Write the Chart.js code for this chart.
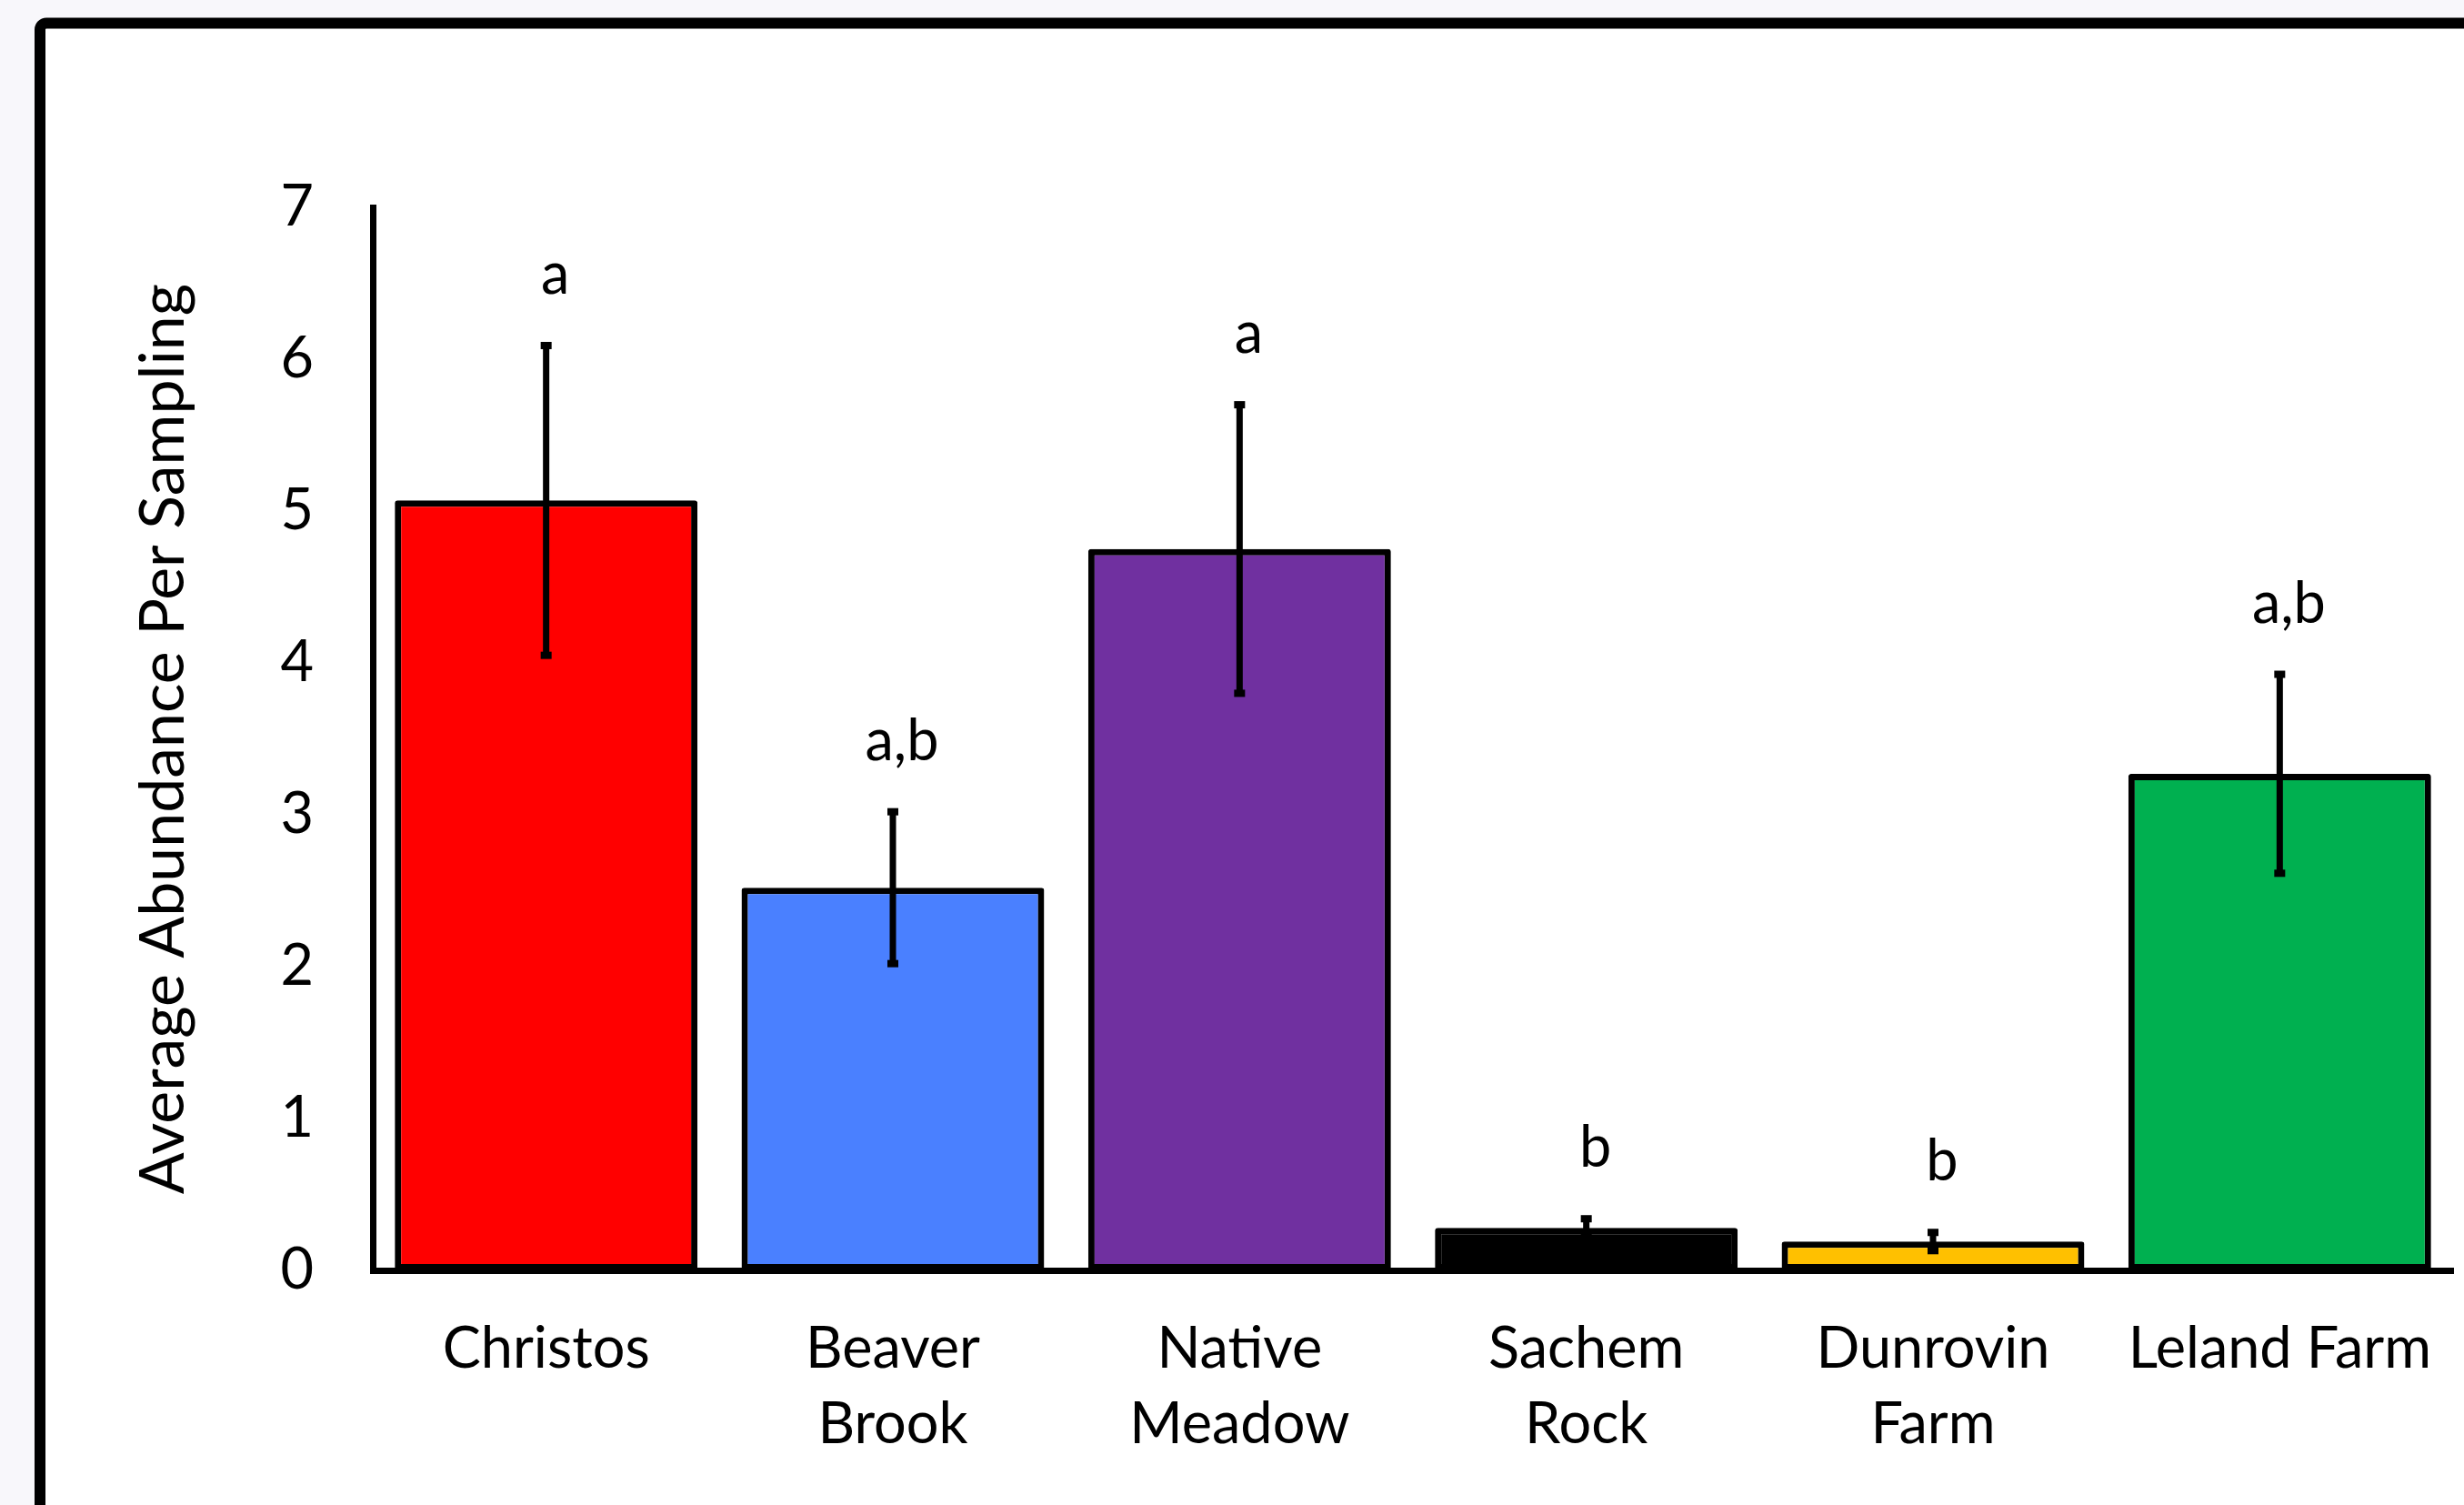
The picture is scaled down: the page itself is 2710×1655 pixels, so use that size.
<!DOCTYPE html>
<html><head><meta charset="utf-8">
<script src="https://cdn.jsdelivr.net/npm/chart.js@4.4.1/dist/chart.umd.min.js"></script>
<style>html,body{margin:0;padding:0;background:#F8F7FB;overflow:hidden}canvas{display:block}</style>
</head><body>
<canvas id="c" width="2710" height="1655"></canvas>
<script>
// ---- data ----
const categories = [['Christos'], ['Beaver', 'Brook'], ['Native', 'Meadow'], ['Sachem', 'Rock'], ['Dunrovin', 'Farm'], ['Leland Farm']];
const means = [5.07, 2.52, 4.75, 0.28, 0.19, 3.27];
const errors = [1.02, 0.50, 0.95, 0.06, 0.06, 0.655];
const letters = ['a', 'a,b', 'a', 'b', 'b', 'a,b'];
const barColors = ['#FF0000', '#4A80FF', '#7030A0', '#000000', '#FFC000', '#00B050'];
const yTicks = [0, 1, 2, 3, 4, 5, 6, 7];
const yTitle = 'Average Abundance Per Sampling';

const FONT = 'Lato, "Noto Sans", sans-serif';

const framePlugin = {
  id: 'frame',
  beforeDraw(chart) {
    const ctx = chart.ctx;
    ctx.save();
    ctx.fillStyle = '#F8F7FB';
    ctx.fillRect(0, 0, chart.width, chart.height);
    ctx.beginPath();
    ctx.roundRect(44, 25.5, chart.width + 100, chart.height + 100, 7);
    ctx.fillStyle = '#FFFFFF';
    ctx.fill();
    ctx.lineWidth = 12;
    ctx.strokeStyle = '#000000';
    ctx.stroke();
    ctx.restore();
  }
};

const errorPlugin = {
  id: 'errs',
  afterDatasetsDraw(chart) {
    const ctx = chart.ctx;
    const meta = chart.getDatasetMeta(0);
    const ys = chart.scales.y;
    ctx.save();
    ctx.strokeStyle = '#000';
    ctx.fillStyle = '#000';
    meta.data.forEach((bar, i) => {
      const x = bar.x;
      const top = ys.getPixelForValue(means[i] + errors[i]);
      const bot = ys.getPixelForValue(means[i] - errors[i]);
      ctx.lineWidth = 7;
      ctx.beginPath();
      ctx.moveTo(x, top);
      ctx.lineTo(x, bot);
      ctx.stroke();
      ctx.fillRect(x - 6, top - 4, 12, 8);
      ctx.fillRect(x - 6, bot - 4, 12, 8);
      ctx.font = '63px ' + FONT;
      ctx.textAlign = 'center';
      ctx.textBaseline = 'alphabetic';
      ctx.fillText(letters[i], x + 10, top - 57);
    });
    ctx.restore();
  }
};

new Chart(document.getElementById('c'), {
  type: 'bar',
  data: {
    labels: categories,
    datasets: [{
      data: means,
      backgroundColor: barColors,
      borderColor: '#000000',
      borderWidth: 7,
      borderRadius: 3,
      borderSkipped: false,
      barPercentage: 0.873,
      categoryPercentage: 1
    }]
  },
  options: {
    responsive: false,
    devicePixelRatio: 1,
    animation: false,
    layout: { padding: { top: 228, right: 12, left: 0, bottom: 0 } },
    plugins: { legend: { display: false }, tooltip: { enabled: false } },
    scales: {
      x: {
        grid: { display: false, drawTicks: false },
        border: { display: true, color: '#000', width: 7 },
        ticks: { color: '#000', font: { family: FONT, size: 63, lineHeight: 1.32 }, padding: 45, maxRotation: 0, autoSkip: false },
        afterFit(s) { s.height = 258; s.paddingLeft = 0; s.paddingRight = 0; }
      },
      y: {
        min: 0, max: 7,
        grid: { display: false, drawTicks: false },
        border: { display: true, color: '#000', width: 7 },
        ticks: { color: '#000', font: { family: FONT, size: 63 }, padding: 65 },
        afterBuildTicks(s) { s.ticks = yTicks.map(v => ({ value: v })); },
        title: { display: true, text: yTitle, color: '#000', font: { family: FONT, size: 68 }, padding: { top: 139, bottom: 0 } },
        afterFit(s) { s.width = 410; }
      }
    }
  },
  plugins: [framePlugin, errorPlugin]
});
</script>
</body></html>
